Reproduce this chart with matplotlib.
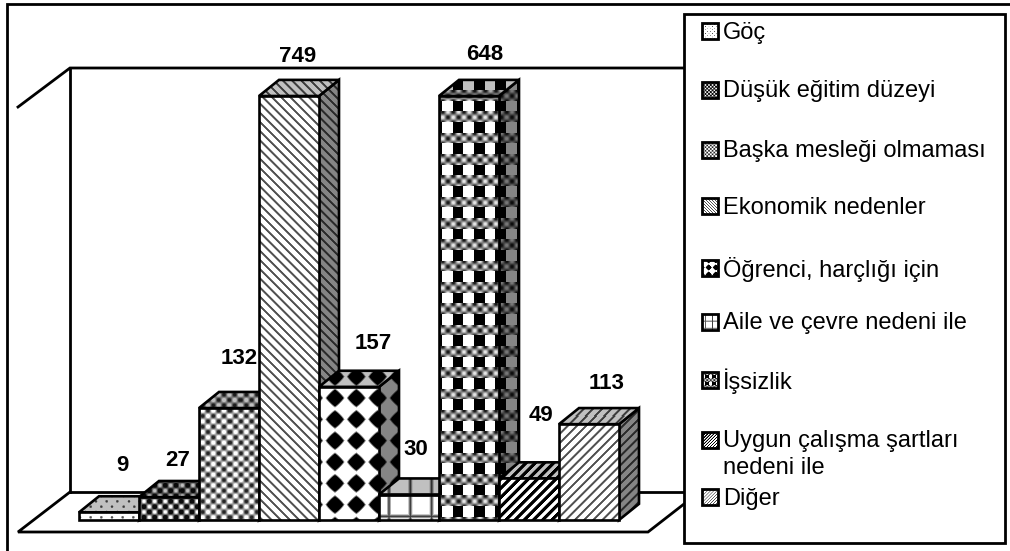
import numpy as np
import matplotlib
matplotlib.use('Agg')
import matplotlib.pyplot as plt
from matplotlib.patches import Polygon, Rectangle

plt.rcParams['font.family'] = ['Liberation Sans', 'DejaVu Sans']

categories = ['Göç', 'Düşük eğitim düzeyi', 'Başka mesleği olmaması', 'Ekonomik nedenler',
              'Öğrenci, harçlığı için', 'Aile ve çevre nedeni ile', 'İşsizlik',
              'Uygun çalışma şartları\nnedeni ile', 'Diğer']
values = [9, 27, 132, 749, 157, 30, 648, 49, 113]
axis_max = 500

# label offsets from the front top centre of each bar, in pixels
label_dx = [13, 9, 10, 9, 24, 7, 16, 12, 18]
label_dy = [47, 37, 50, 39, 43, 45, 42, 63, 41]

legend_y = [31, 90, 150, 206, 268, 322, 380, 440, 497]

W, H = 1010, 551
P = 32 / 3
Q = 64 / 3
D = 9.2


def lattice(x, y):
    return np.cos(2 * np.pi * x / P) * np.cos(2 * np.pi * y / P)


def wrapped(v, period):
    return np.abs((v + period / 2) % period - period / 2)


def dots(x, y):
    return 1 - 0.7 * np.clip((lattice(x, y) - 0.55) / 0.4, 0, 1)


def dark_stars(x, y):
    return np.clip(0.38 - 0.75 * lattice(x, y), 0.05, 1)


def light_stars(x, y):
    return np.clip(0.62 - 0.6 * lattice(x, y), 0.15, 1)


def thin_down(x, y):
    return 1 - 0.68 * np.clip((np.cos(2 * np.pi * (x - y) / D) - 0.25) / 0.6, 0, 1)


def diamonds(x, y):
    dx, dy = wrapped(x - 335, Q), wrapped(y - 398, Q)
    d = (dx ** 1.15 + dy ** 1.15) ** (1 / 1.15)
    return np.clip((d - 7.8) / 2.2, 0, 1)


def plaid(x, y):
    d = np.minimum(wrapped(x - 389, Q), wrapped(y - 495, Q))
    return 0.2 + 0.8 * np.clip(d / 2.5, 0, 1)


def check(x, y):
    columns = np.where(wrapped(x - 458, Q) < 5.3, 0.0, 1.0)
    band = wrapped(y - 458, Q) < 5.3
    return np.where(band, np.clip(0.5 - 0.45 * lattice(x, y), 0.1, 0.9), columns)


def heavy_up(x, y):
    return np.clip(0.5 + 1.5 * np.cos(2 * np.pi * (x + y) / D), 0, 1)


def thin_up(x, y):
    return 1 - 0.68 * np.clip((np.cos(2 * np.pi * (x + y) / D) - 0.25) / 0.6, 0, 1)


patterns = [dots, dark_stars, light_stars, thin_down, diamonds, plaid, check, heavy_up, thin_up]

fig = plt.figure(figsize=(W / 100, H / 100), dpi=100, facecolor='white')

# pixel canvas for the frame, floor and walls
bg = fig.add_axes([0, 0, 1, 1], zorder=0)
bg.set_xlim(0, W)
bg.set_ylim(H, 0)
bg.axis('off')
for xs, ys in [([7, 7, W], [H, 4, 4]),
               ([18, 70, 684], [107, 68, 68]),
               ([70, 70], [68, 492]),
               ([70, 684], [492, 492]),
               ([70, 18, 648, 684], [492, 532, 532, 504])]:
    bg.plot(xs, ys, color='black', lw=2, solid_joinstyle='miter')

# front plane of the bars
ax = fig.add_axes([79 / W, 1 - 520 / H, 540 / W, 424 / H], zorder=1)
ax.set_xlim(-0.5, 8.5)
ax.set_ylim(0, axis_max)
ax.axis('off')
ax.autoscale(False)

depth_x = 1 / 3
depth_y = 19


def draw_face(verts, pattern, shade, z):
    # fill one face with its screen-aligned pattern, clipped to the polygon
    verts = np.array(verts, dtype=float)
    disp = ax.transData.transform(verts)
    x0, x1 = int(np.floor(disp[:, 0].min())), int(np.ceil(disp[:, 0].max()))
    y0, y1 = int(np.floor(disp[:, 1].min())), int(np.ceil(disp[:, 1].max()))
    xs = np.arange(x0, x1) + 0.5
    ys = H - (np.arange(y0, y1)[::-1] + 0.5)
    X, Y = np.meshgrid(xs, ys)
    lo, hi = ax.transData.inverted().transform([[x0, y0], [x1, y1]])
    im = ax.imshow(pattern(X, Y) * shade, cmap='gray', vmin=0, vmax=1, aspect='auto',
                   interpolation='nearest', extent=(lo[0], hi[0], lo[1], hi[1]),
                   origin='upper', zorder=z)
    im.set_clip_box(fig.bbox)
    im.set_clip_path(Polygon(verts, transform=ax.transData))
    ax.add_patch(Polygon(verts, closed=True, fill=False, edgecolor='black', lw=1.9,
                         joinstyle='miter', clip_on=False, zorder=z + 0.5))


# the value axis stops at axis_max, so taller bars are cut off there
heights = np.minimum(values, axis_max)
for i, h in enumerate(heights):
    left, right = i - 0.5, i + 0.5
    front = [(left, 0), (right, 0), (right, h), (left, h)]
    side = [(right, 0), (right + depth_x, depth_y), (right + depth_x, h + depth_y), (right, h)]
    top = [(left, h), (right, h), (right + depth_x, h + depth_y), (left + depth_x, h + depth_y)]
    draw_face(side, patterns[i], 0.52, 10 + i * 3)
    draw_face(top, patterns[i], 0.75, 11 + i * 3)
    draw_face(front, patterns[i], 1.0, 12 + i * 3)
    ax.annotate(str(values[i]), (i, h), xytext=(label_dx[i], label_dy[i]),
                textcoords='offset pixels', ha='center', va='center',
                fontsize=16, fontweight='bold', color='black', zorder=100,
                annotation_clip=False)

# legend panel
lg = fig.add_axes([0, 0, 1, 1], zorder=2)
lg.set_xlim(0, W)
lg.set_ylim(H, 0)
lg.axis('off')
lg.patch.set_alpha(0)
lg.autoscale(False)
lg.add_patch(Rectangle((684, 14), 321, 529, facecolor='white', edgecolor='black', lw=2))
for i, name in enumerate(categories):
    yc = legend_y[i]
    xs = np.arange(702, 718) + 0.5
    ys = np.arange(yc - 8, yc + 8) + 0.5
    X, Y = np.meshgrid(xs, ys)
    sw = patterns[i](X * 3 + 1, Y * 3 + 1)
    lg.imshow(sw, cmap='gray', vmin=0, vmax=1, aspect='auto', interpolation='nearest',
              extent=(702, 718, yc + 8, yc - 8), zorder=3)
    lg.add_patch(Rectangle((702, yc - 8), 16, 16, fill=False, edgecolor='black', lw=2, zorder=4))
    if '\n' in name:
        first, second = name.split('\n')
        lg.text(723, yc + 1.5, first, fontsize=17, va='center', ha='left', color='black')
        lg.text(723, yc + 28.5, second, fontsize=17, va='center', ha='left', color='black')
    else:
        lg.text(723, yc + 1.5, name, fontsize=17, va='center', ha='left', color='black')

fig.savefig('out.png', dpi=100, facecolor='white')
